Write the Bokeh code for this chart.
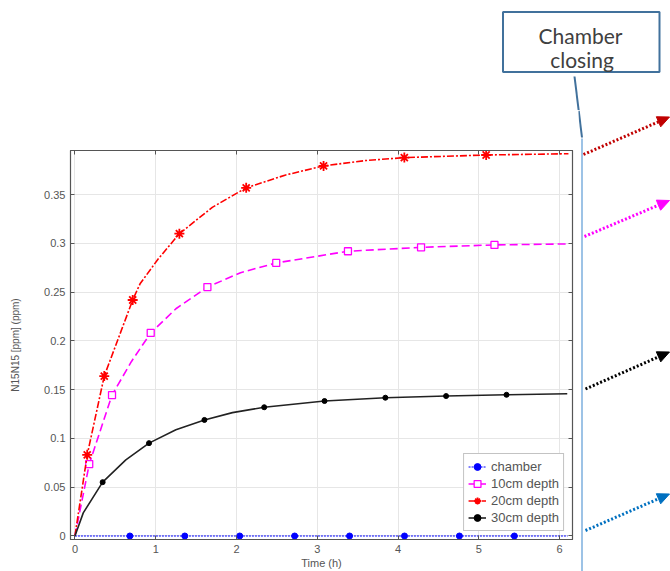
import math
from bokeh.plotting import figure
from bokeh.layouts import column, row
from bokeh.models import Range1d, LinearAxis, FixedTicker, Legend, LegendItem
from bokeh.core.properties import value
from bokeh.embed import file_html
from bokeh.resources import INLINE

# ---------------- data ----------------
x_ticks = [0, 1, 2, 3, 4, 5, 6]
y_ticks = [0, 0.05, 0.1, 0.15, 0.2, 0.25, 0.3, 0.35]
y_tick_labels = ["0", "0.05", "0.1", "0.15", "0.2", "0.25", "0.3", "0.35"]

series_names = ["chamber", "10cm depth", "20cm depth", "30cm depth"]

t_chamber_line = [0.0, 6.1]
c_chamber_line = [0.0, 0.0]
t_chamber_mk = [0.68, 1.36, 2.04, 2.72, 3.40, 4.08, 4.76, 5.44]
c_chamber_mk = [0.0, 0.0, 0.0, 0.0, 0.0, 0.0, 0.0, 0.0]

t_10_line = [0.0, 0.177, 0.459, 0.70, 0.938, 1.25, 1.64, 2.05, 2.492, 3.38, 4.285, 5.194, 6.095]
c_10_line = [0.0, 0.0737, 0.1445, 0.179, 0.2082, 0.233, 0.2552, 0.270, 0.280, 0.292, 0.296, 0.2985, 0.2995]
t_10_mk = [0.177, 0.459, 0.938, 1.64, 2.492, 3.38, 4.285, 5.194]
c_10_mk = [0.0737, 0.1445, 0.2082, 0.2552, 0.280, 0.292, 0.296, 0.2985]

t_20_line = [0.0, 0.152, 0.363, 0.715, 0.806, 1.03, 1.293, 1.70, 2.12, 2.60, 3.078, 3.60, 4.078, 5.091, 6.11]
c_20_line = [0.0, 0.0832, 0.164, 0.242, 0.2586, 0.284, 0.310, 0.337, 0.357, 0.370, 0.3795, 0.385, 0.388, 0.3907, 0.392]
t_20_mk = [0.152, 0.363, 0.715, 1.293, 2.12, 3.078, 4.078, 5.091]
c_20_mk = [0.0832, 0.164, 0.242, 0.310, 0.357, 0.3795, 0.388, 0.3907]

t_30_line = [0.0, 0.103, 0.343, 0.63, 0.917, 1.25, 1.603, 1.95, 2.343, 3.09, 3.843, 4.595, 5.343, 6.095]
c_30_line = [0.0, 0.0237, 0.0552, 0.078, 0.0952, 0.109, 0.119, 0.1265, 0.132, 0.1384, 0.1418, 0.1435, 0.1448, 0.1459]
t_30_mk = [0.343, 0.917, 1.603, 2.343, 3.09, 3.843, 4.595, 5.343]
c_30_mk = [0.0552, 0.0952, 0.119, 0.132, 0.1384, 0.1418, 0.1435, 0.1448]

annotation_lines = ["Chamber", "closing"]

# ---------------- layout (page pixels) ----------------
PW, PH = 670, 571          # whole page
TOP_H = 110                # strip above the chart holding the callout box
MAIN_W = 578               # width of the chart figure
X0, X1 = -0.055, 6.16
Y0, Y1 = -0.0036, 0.3953

TXT = "#555555"
FONT = "Liberation Sans"


def blank(w, h, xr, yr):
    f = figure(width=w, height=h, x_range=Range1d(*xr), y_range=Range1d(*yr),
               x_axis_location=None, y_axis_location=None, toolbar_location=None,
               output_backend="svg", min_border=0, outline_line_color=None)
    f.grid.visible = False
    f.background_fill_color = "white"
    f.border_fill_color = "white"
    f.frame_align = False
    return f


# ---------------- main chart ----------------
p = figure(width=MAIN_W, height=PH - TOP_H, x_range=Range1d(X0, X1), y_range=Range1d(Y0, Y1),
           output_backend="svg", toolbar_location=None,
           min_border_left=70, min_border_right=MAIN_W - 572,
           min_border_top=150 - TOP_H, min_border_bottom=PH - 540)
p.frame_align = False
p.background_fill_color = "white"
p.border_fill_color = "white"
p.outline_line_color = "#555555"
p.outline_line_width = 1.2

for ax in (p.xaxis[0], p.yaxis[0]):
    ax.axis_line_color = "#555555"
    ax.major_tick_line_color = "#555555"
    ax.major_tick_in = 4
    ax.major_tick_out = 0
    ax.minor_tick_line_color = None
    ax.major_label_text_font = FONT
    ax.major_label_text_font_size = "11px"
    ax.major_label_text_color = TXT
    ax.axis_label_text_font = FONT
    ax.axis_label_text_color = TXT
    ax.axis_label_text_font_style = "normal"

p.xaxis.ticker = FixedTicker(ticks=x_ticks)
p.yaxis.ticker = FixedTicker(ticks=y_ticks)
p.yaxis.major_label_overrides = {t: s for t, s in zip(y_ticks, y_tick_labels)}
p.xaxis.axis_label = "Time (h)"
p.xaxis.axis_label_text_font_size = "11px"
p.xaxis.major_label_standoff = 5
p.xaxis.axis_label_standoff = 1
p.yaxis.axis_label = "N15N15 [ppm] (ppm)"
p.yaxis.axis_label_text_font_size = "10px"
p.yaxis.major_label_standoff = 5
p.yaxis.axis_label_standoff = 20

for ticks, side in ((x_ticks, "above"), (y_ticks, "right")):
    p.add_layout(LinearAxis(ticker=FixedTicker(ticks=ticks), major_label_text_font_size="1px",
                            major_label_text_color=None, major_label_text_alpha=0,
                            major_label_standoff=0, major_tick_in=4, major_tick_out=0,
                            minor_tick_line_color=None, axis_line_color="#555555",
                            major_tick_line_color="#555555"), side)

p.xgrid.grid_line_color = "#e6e6e6"
p.ygrid.grid_line_color = "#e6e6e6"
p.xgrid.ticker = FixedTicker(ticks=x_ticks)
p.ygrid.ticker = FixedTicker(ticks=y_ticks)

l_ch = p.line(t_chamber_line, c_chamber_line, line_color="#0000ff", line_width=1, line_dash="2 1")
m_ch = p.scatter(t_chamber_mk, c_chamber_mk, marker="circle", size=6, fill_color="#0000ff", line_color="#0000ff")

l_10 = p.line(t_10_line, c_10_line, line_color="#ff00ff", line_width=1.6, line_dash="8 4")
m_10 = p.scatter(t_10_mk, c_10_mk, marker="square", size=7, fill_color="white", fill_alpha=1,
                 line_color="#ff00ff", line_width=1.3)

l_20 = p.line(t_20_line, c_20_line, line_color="#ff0000", line_width=1.6, line_dash="7 2 2 2")
m_20 = p.scatter(t_20_mk, c_20_mk, marker="asterisk", size=10, line_color="#ff0000", line_width=1.8)

l_30 = p.line(t_30_line, c_30_line, line_color="#222222", line_width=1.6)
m_30 = p.scatter(t_30_mk, c_30_mk, marker="circle", size=5, fill_color="#000000", line_color="#000000")

legend = Legend(items=[
    LegendItem(label=series_names[0], renderers=[l_ch, m_ch]),
    LegendItem(label=series_names[1], renderers=[l_10, m_10]),
    LegendItem(label=series_names[2], renderers=[l_20, m_20]),
    LegendItem(label=series_names[3], renderers=[l_30, m_30]),
], location="bottom_right", margin=8, padding=4, spacing=0,
    glyph_width=18, glyph_height=17, label_height=17, label_standoff=5,
    label_text_font=FONT, label_text_font_size="13px", label_text_color=TXT,
    border_line_color="#888888", border_line_width=1.5, background_fill_alpha=1)
p.add_layout(legend)

# ---------------- callout strip above the chart (page-pixel coordinates) ----------------
top = blank(PW, TOP_H, (0, PW), (TOP_H, 0))
top.quad(left=[502.5], right=[659], top=[11.5], bottom=[71.5], fill_color="white",
         line_color="#41719c", line_width=2)
top.text(x=[580, 581.5], y=[35, 58.5], text=annotation_lines, text_align="center",
         text_baseline="alphabetic", text_font=value("Lato"), text_font_size=value("21px"),
         text_color="#404040")
top.line([574, 578.2], [76, TOP_H], line_color="#41719c", line_width=2)

# ---------------- right strip: closing marker line and arrows ----------------
rs = blank(PW - MAIN_W, PH - TOP_H, (MAIN_W, PW), (PH, TOP_H))
rs.line([578.2, 581.5], [TOP_H, 137], line_color="#41719c", line_width=2)
rs.line([581.5, 581.5], [138, PH], line_color="#9dc3e6", line_width=2)

arrow_specs = [  # (start x, start y, tip x, tip y, colour)
    (583, 154, 669, 116.5, "#c00000"),
    (584, 236, 669, 200, "#ff00ff"),
    (585, 388.5, 669, 351.5, "#000000"),
    (585, 530, 669, 493.5, "#0070c0"),
]
HEAD_L, HEAD_W = 12, 5.5
for sx, sy, ex, ey, col in arrow_specs:
    d = math.hypot(ex - sx, ey - sy)
    ux, uy = (ex - sx) / d, (ey - sy) / d
    bx, by = ex - HEAD_L * ux, ey - HEAD_L * uy
    rs.line([sx, bx], [sy, by], line_color=col, line_width=3, line_dash="2 2")
    rs.patch([ex, bx - HEAD_W * uy, bx + HEAD_W * uy], [ey, by + HEAD_W * ux, by - HEAD_W * ux],
             fill_color=col, line_color=col, line_width=1)

layout = column(top, row(p, rs))
open("out.html", "w").write(file_html(layout, INLINE))
